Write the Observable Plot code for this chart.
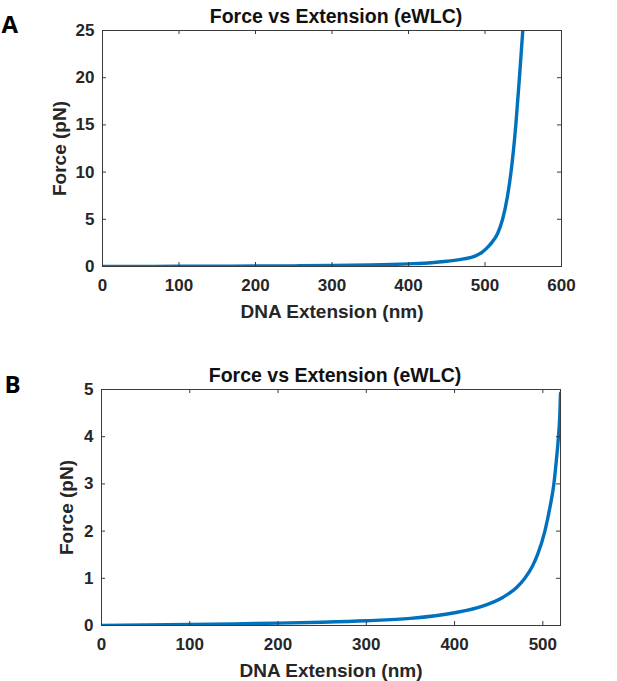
<!DOCTYPE html>
<html>
<head>
<meta charset="utf-8">
<script src="https://cdn.jsdelivr.net/npm/d3@7"></script>
<script src="https://cdn.jsdelivr.net/npm/@observablehq/plot@0.6"></script>
<style>
  html, body { margin: 0; padding: 0; background: #fff; }
  #root { width: 617px; }
  svg { display: block; }
</style>
</head>
<body>
<div id="root"></div>
<script>
// ---- Panel A data ----
const extA = [0, 50, 100, 150, 200, 250, 300, 350, 400, 430, 450, 472, 487, 496, 503, 508.5, 516.5, 523, 529.5, 534, 540.3, 545, 549.4];
const forceA = [0, 0.01, 0.02, 0.035, 0.05, 0.07, 0.1, 0.16, 0.28, 0.4, 0.56, 0.8, 1.1, 1.5, 2.0, 2.5, 3.5, 5, 7.5, 10, 15, 20, 25];
const xTicksA = [0, 100, 200, 300, 400, 500, 600];
const yTicksA = [0, 5, 10, 15, 20, 25];

// ---- Panel B data ----
const extB = [0, 50, 100, 150, 200, 250, 300, 350, 400, 430, 455, 470, 479.6, 488, 494, 502.3, 508, 512.5, 515.3, 517.7, 519.3, 520];
const forceB = [0, 0.01, 0.02, 0.035, 0.05, 0.07, 0.1, 0.15, 0.27, 0.4, 0.6, 0.8, 1.0, 1.25, 1.5, 2.0, 2.5, 3.0, 3.5, 4.0, 4.5, 4.92];
const xTicksB = [0, 100, 200, 300, 400, 500];
const yTicksB = [0, 1, 2, 3, 4, 5];

const titleText = "Force vs Extension (eWLC)";
const xLabel = "DNA Extension (nm)";
const yLabel = "Force (pN)";

function panel(opts) {
  const data = opts.ext.map((e, i) => ({ext: e, force: opts.force[i]}));
  const frameH = opts.height - opts.mt - opts.mb;
  const frameW = 617 - opts.ml - opts.mr;
  const axisColor = "#3a3a3a";
  return Plot.plot({
    width: 617,
    height: opts.height,
    marginTop: opts.mt,
    marginBottom: opts.mb,
    marginLeft: opts.ml,
    marginRight: opts.mr,
    style: {fontFamily: "'Liberation Sans', Arial, sans-serif", fontWeight: "bold", fontSize: "17px", color: "#262626", background: "#fff", overflow: "visible"},
    x: {domain: opts.xDomain, ticks: opts.xTicks},
    y: {domain: opts.yDomain, ticks: opts.yTicks},
    marks: [
      Plot.line(data, {x: "ext", y: "force", stroke: "#0072BD", strokeWidth: 3.4, curve: "monotone-x", clip: true}),
      Plot.frame({stroke: axisColor, strokeWidth: 1}),
      // inward ticks, bottom & top
      Plot.ruleX(opts.xTicks, {x: d => d, insetTop: frameH - 4, stroke: axisColor}),
      Plot.ruleX(opts.xTicks, {x: d => d, insetBottom: frameH - 4, stroke: axisColor}),
      // inward ticks, left & right
      Plot.ruleY(opts.yTicks, {y: d => d, insetRight: frameW - 4, stroke: axisColor}),
      Plot.ruleY(opts.yTicks, {y: d => d, insetLeft: frameW - 4, stroke: axisColor}),
      Plot.axisX(opts.xTicks, {tickSize: 0, tickPadding: 12, fontSize: 17, fill: "#262626", label: null}),
      Plot.axisY(opts.yTicks, {tickSize: 0, tickPadding: 8, fontSize: 17, fill: "#262626", label: null}),
      Plot.text([titleText], {frameAnchor: "top", textAnchor: "middle", lineAnchor: "bottom", dy: -8, dx: 4, fontSize: 19.5, fontWeight: "bold", fill: "#111"}),
      Plot.text([xLabel], {frameAnchor: "bottom", textAnchor: "middle", lineAnchor: "bottom", dy: 51, dx: 0, fontSize: 19, fontWeight: "bold", fill: "#262626"}),
      Plot.text([yLabel], {frameAnchor: "left", textAnchor: "middle", lineAnchor: "bottom", rotate: -90, dx: opts.yLabelDx, fontSize: 19, fontWeight: "bold", fill: "#262626"}),
      Plot.text([opts.letter], {frameAnchor: "top-left", textAnchor: "start", lineAnchor: "bottom", dx: opts.letterDx, dy: opts.letterDy, fontSize: 24, fontWeight: "bold", fontFamily: "'Open Sans', 'Noto Sans', sans-serif", fill: "#000"})
    ]
  });
}

const root = document.getElementById("root");
root.appendChild(panel({
  ext: extA, force: forceA, xTicks: xTicksA, yTicks: yTicksA,
  xDomain: [0, 600], yDomain: [0, 25],
  height: 340, mt: 30, mb: 74, ml: 102, mr: 56,
  yLabelDx: -37, letter: "A", letterDx: -101, letterDy: 2
}));
root.appendChild(panel({
  ext: extB, force: forceB, xTicks: xTicksB, yTicks: yTicksB,
  xDomain: [0, 520], yDomain: [0, 5],
  height: 341, mt: 49, mb: 56, ml: 101, mr: 57,
  yLabelDx: -29, letter: "B", letterDx: -97, letterDy: 3
}));
</script>
</body>
</html>
